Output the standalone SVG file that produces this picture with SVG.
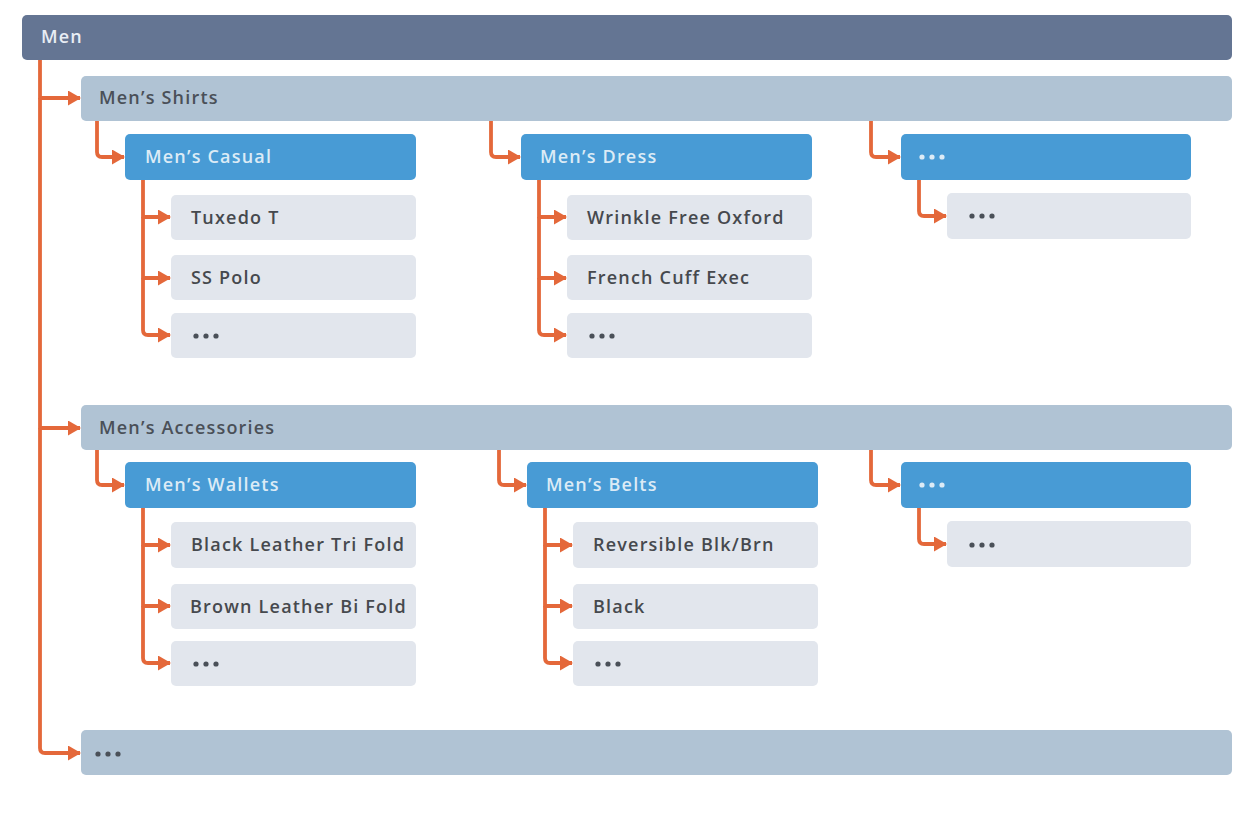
<svg xmlns="http://www.w3.org/2000/svg" width="1256" height="814" viewBox="0 0 1256 814">
<defs>
<style>
.t{font-family:"Open Sans","Liberation Sans",sans-serif;font-size:18px;font-weight:600;letter-spacing:1.2px}
.l1{fill:#647593}
.l2{fill:#b0c3d4}
.l3{fill:#489bd5}
.l4{fill:#e2e6ed}
.t1{fill:#e8edf4}
.t2{fill:#4a5058}
.t3{fill:#dcebf6}
.t4{fill:#46494e}
.c{fill:none;stroke:#e4683a;stroke-width:3.8;stroke-linejoin:round}
.d1{fill:#4a5058}
.d3{fill:#dcebf6}
</style>
<marker id="ah" viewBox="0 0 13 15" refX="12" refY="7.5" markerWidth="13" markerHeight="15" markerUnits="userSpaceOnUse" orient="auto">
<path d="M0,0 L13,7.5 L0,15 Z" fill="#e4683a"/>
</marker>
</defs>
<rect width="1256" height="814" fill="#ffffff"/>
<g id="connectors">
<path class="c" d="M40,60 V98 H80" marker-end="url(#ah)"/>
<path class="c" d="M40,98 V428 H80" marker-end="url(#ah)"/>
<path class="c" d="M40,428 V748 Q40,753 45,753 H80" marker-end="url(#ah)"/>
<path class="c" d="M97,121 V152 Q97,157 102,157 H124" marker-end="url(#ah)"/>
<path class="c" d="M491,121 V152 Q491,157 496,157 H520" marker-end="url(#ah)"/>
<path class="c" d="M871,121 V152 Q871,157 876,157 H900" marker-end="url(#ah)"/>
<path class="c" d="M143,180 V217 H170" marker-end="url(#ah)"/>
<path class="c" d="M143,217 V278 H170" marker-end="url(#ah)"/>
<path class="c" d="M143,278 V330 Q143,335 148,335 H170" marker-end="url(#ah)"/>
<path class="c" d="M539,180 V217 H566" marker-end="url(#ah)"/>
<path class="c" d="M539,217 V278 H566" marker-end="url(#ah)"/>
<path class="c" d="M539,278 V330 Q539,335 544,335 H566" marker-end="url(#ah)"/>
<path class="c" d="M919,180 V211 Q919,216 924,216 H946" marker-end="url(#ah)"/>
<path class="c" d="M97,450 V480 Q97,485 102,485 H124" marker-end="url(#ah)"/>
<path class="c" d="M499,450 V480 Q499,485 504,485 H526" marker-end="url(#ah)"/>
<path class="c" d="M871,450 V480 Q871,485 876,485 H900" marker-end="url(#ah)"/>
<path class="c" d="M143,508 V545 H170" marker-end="url(#ah)"/>
<path class="c" d="M143,545 V606 H170" marker-end="url(#ah)"/>
<path class="c" d="M143,606 V658 Q143,663 148,663 H170" marker-end="url(#ah)"/>
<path class="c" d="M545,508 V545 H572" marker-end="url(#ah)"/>
<path class="c" d="M545,545 V606 H572" marker-end="url(#ah)"/>
<path class="c" d="M545,606 V658 Q545,663 550,663 H572" marker-end="url(#ah)"/>
<path class="c" d="M919,508 V539 Q919,544 924,544 H946" marker-end="url(#ah)"/>
</g>
<g id="men"><rect class="l1" x="22" y="15" width="1210" height="45" rx="5"/><text class="t t1" x="41" y="43">Men</text></g>
<g id="shirts"><rect class="l2" x="81" y="76" width="1151" height="45" rx="5"/><text class="t t2" x="99" y="104">Men’s Shirts</text></g>
<g id="casual"><rect class="l3" x="125" y="134" width="291" height="46" rx="5"/><text class="t t3" x="145" y="163">Men’s Casual</text></g>
<g id="tuxedo"><rect class="l4" x="171" y="195" width="245" height="45" rx="5"/><text class="t t4" x="191" y="224">Tuxedo T</text></g>
<g id="sspolo"><rect class="l4" x="171" y="255" width="245" height="45" rx="5"/><text class="t t4" x="191" y="284">SS Polo</text></g>
<g id="casual-more"><rect class="l4" x="171" y="313" width="245" height="45" rx="5"/><g class="d1"><circle cx="196" cy="336" r="2.6"/><circle cx="206" cy="336" r="2.6"/><circle cx="216" cy="336" r="2.6"/></g></g>
<g id="dress"><rect class="l3" x="521" y="134" width="291" height="46" rx="5"/><text class="t t3" x="540" y="163">Men’s Dress</text></g>
<g id="wrinkle"><rect class="l4" x="567" y="195" width="245" height="45" rx="5"/><text class="t t4" x="587" y="224">Wrinkle Free Oxford</text></g>
<g id="french"><rect class="l4" x="567" y="255" width="245" height="45" rx="5"/><text class="t t4" x="587" y="284">French Cuff Exec</text></g>
<g id="dress-more"><rect class="l4" x="567" y="313" width="245" height="45" rx="5"/><g class="d1"><circle cx="592" cy="336" r="2.6"/><circle cx="602" cy="336" r="2.6"/><circle cx="612" cy="336" r="2.6"/></g></g>
<g id="shirts-more"><rect class="l3" x="901" y="134" width="290" height="46" rx="5"/><g class="d3"><circle cx="922" cy="157" r="2.6"/><circle cx="932" cy="157" r="2.6"/><circle cx="942" cy="157" r="2.6"/></g></g>
<g id="shirts-more-child"><rect class="l4" x="947" y="193" width="244" height="46" rx="5"/><g class="d1"><circle cx="972" cy="216" r="2.6"/><circle cx="982" cy="216" r="2.6"/><circle cx="992" cy="216" r="2.6"/></g></g>
<g id="accessories"><rect class="l2" x="81" y="405" width="1151" height="45" rx="5"/><text class="t t2" x="99" y="434">Men’s Accessories</text></g>
<g id="wallets"><rect class="l3" x="125" y="462" width="291" height="46" rx="5"/><text class="t t3" x="145" y="491">Men’s Wallets</text></g>
<g id="trifold"><rect class="l4" x="171" y="522" width="245" height="46" rx="5"/><text class="t t4" x="191" y="551">Black Leather Tri Fold</text></g>
<g id="bifold"><rect class="l4" x="171" y="584" width="245" height="45" rx="5"/><text class="t t4" x="190" y="613">Brown Leather Bi Fold</text></g>
<g id="wallets-more"><rect class="l4" x="171" y="641" width="245" height="45" rx="5"/><g class="d1"><circle cx="196" cy="664" r="2.6"/><circle cx="206" cy="664" r="2.6"/><circle cx="216" cy="664" r="2.6"/></g></g>
<g id="belts"><rect class="l3" x="527" y="462" width="291" height="46" rx="5"/><text class="t t3" x="546" y="491">Men’s Belts</text></g>
<g id="reversible"><rect class="l4" x="573" y="522" width="245" height="46" rx="5"/><text class="t t4" x="593" y="551">Reversible Blk/Brn</text></g>
<g id="black"><rect class="l4" x="573" y="584" width="245" height="45" rx="5"/><text class="t t4" x="593" y="613">Black</text></g>
<g id="belts-more"><rect class="l4" x="573" y="641" width="245" height="45" rx="5"/><g class="d1"><circle cx="598" cy="664" r="2.6"/><circle cx="608" cy="664" r="2.6"/><circle cx="618" cy="664" r="2.6"/></g></g>
<g id="accessories-more"><rect class="l3" x="901" y="462" width="290" height="46" rx="5"/><g class="d3"><circle cx="922" cy="485" r="2.6"/><circle cx="932" cy="485" r="2.6"/><circle cx="942" cy="485" r="2.6"/></g></g>
<g id="accessories-more-child"><rect class="l4" x="947" y="521" width="244" height="46" rx="5"/><g class="d1"><circle cx="972" cy="545" r="2.6"/><circle cx="982" cy="545" r="2.6"/><circle cx="992" cy="545" r="2.6"/></g></g>
<g id="more"><rect class="l2" x="81" y="730" width="1151" height="45" rx="5"/><g class="d1"><circle cx="98" cy="754" r="2.6"/><circle cx="108" cy="754" r="2.6"/><circle cx="118" cy="754" r="2.6"/></g></g>
</svg>
